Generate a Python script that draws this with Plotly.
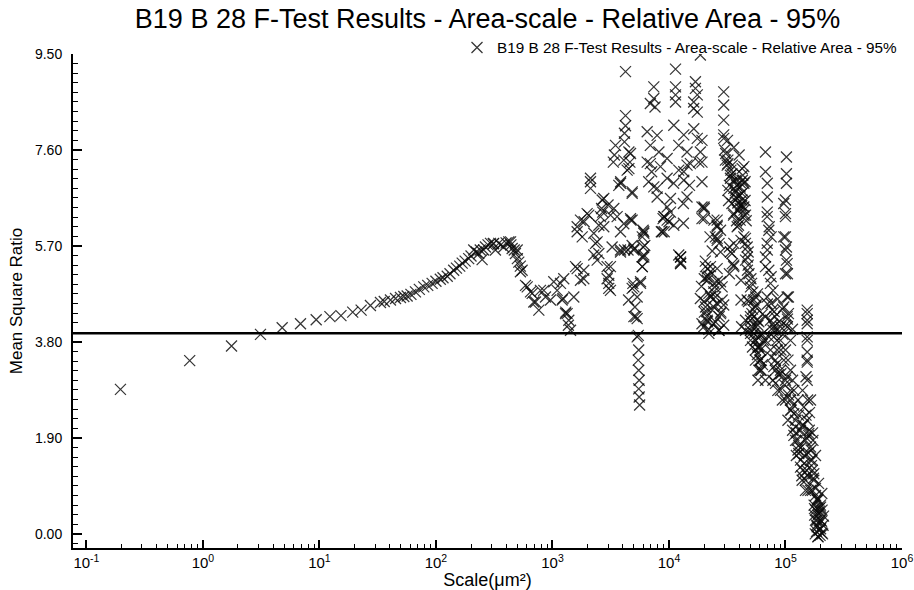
import plotly.graph_objects as go

TITLE = "B19 B 28 F-Test Results - Area-scale - Relative Area - 95%"
X_TITLE = "Scale(μm²)"
Y_TITLE = "Mean Square Ratio"
THRESHOLD = 3.97

y_tick_values = [0.0, 1.9, 3.8, 5.7, 7.6, 9.5]
x_tick_values = [0.1, 1, 10, 100, 1000, 10000, 100000, 1000000]
x_tick_labels = ["10<sup>-1</sup>", "10<sup>0</sup>", "10<sup>1</sup>", "10<sup>2</sup>",
                 "10<sup>3</sup>", "10<sup>4</sup>", "10<sup>5</sup>", "10<sup>6</sup>"]

# smooth part of the curve (small scales)
curve_scale = [0.196, 0.77, 1.76, 3.12, 4.79, 6.88, 9.38, 12.3, 15.3, 19.3,
               22.8, 27.4, 33.4, 36, 40.7, 45, 49.6, 53, 56.6, 61,
               66.7, 72, 78.6, 85, 92.7, 100, 109, 115, 125, 132,
               142, 150, 160, 168, 178, 191, 200, 211, 222, 233,
               240, 249, 266, 280, 294, 310, 324, 346, 360, 382,
               400, 422, 440, 451, 470, 481, 500, 514, 530, 549,
               587, 648, 715, 764, 843, 962, 1026, 1097, 1211, 1337]
curve_ratio = [2.86, 3.43, 3.72, 3.95, 4.08, 4.16, 4.24, 4.30, 4.32, 4.39,
               4.43, 4.52, 4.58, 4.60, 4.63, 4.66, 4.68, 4.70, 4.71, 4.74,
               4.79, 4.84, 4.89, 4.92, 4.96, 5.00, 5.04, 5.07, 5.10, 5.15,
               5.22, 5.26, 5.30, 5.36, 5.40, 5.45, 5.50, 5.62, 5.58, 5.55,
               5.62, 5.43, 5.68, 5.72, 5.75, 5.74, 5.62, 5.75, 5.72, 5.68,
               5.76, 5.78, 5.72, 5.65, 5.62, 5.55, 5.45, 5.38, 5.30, 5.22,
               4.92, 4.79, 4.59, 4.43, 4.82, 4.63, 4.99, 4.82, 4.63, 4.36]

mid_scale = [257, 313, 437, 498, 531, 607, 670, 692, 789, 871,
             1172, 1294, 1381, 1429, 1525, 1629, 1740, 1858, 1629, 1740,
             1985, 2120, 2264, 2340, 2418, 2500, 2582, 2668, 2756, 2945,
             3042, 3145, 3145, 3250, 3362, 3590, 3837, 3837, 4093, 4093,
             4375, 4677, 4831, 4831, 4990, 5333, 5500, 5450, 5500, 5550,
             5500, 5550, 5600, 5200, 5100, 5333, 5000, 5700, 5900, 5900,
             6000, 5900, 6000, 4236, 4236, 4236, 4150, 4150, 3475, 3400,
             3330, 4530, 4620, 4530, 2120, 2120, 3710, 3850, 4831, 2756,
             2640, 2050, 1870, 1629, 1800, 2418, 2264, 2500, 2700, 3000,
             3150, 3837, 3837, 4677, 4831, 5030, 6080, 6200, 6080, 1578,
             1858, 2945, 3042, 3042, 1250, 1230, 1300, 1370, 4831, 5333,
             5450, 5700, 6080, 6080, 5900, 4900, 4500, 5000, 4700, 4450,
             4150]
mid_ratio = [5.62, 5.75, 5.78, 5.62, 5.19, 4.89, 4.76, 4.59, 4.82, 4.69,
             4.96, 4.36, 4.23, 4.03, 4.69, 5.25, 5.02, 5.22, 6.08, 6.21,
             6.34, 6.97, 5.95, 5.75, 5.42, 5.55, 6.28, 6.61, 6.08, 5.05,
             4.96, 4.82, 5.29, 5.68, 6.44, 6.28, 5.62, 6.94, 6.14, 7.40,
             7.20, 7.53, 6.21, 6.74, 5.62, 3.90, 3.64, 3.44, 3.24, 3.04,
             2.87, 2.71, 2.55, 4.30, 4.49, 4.69, 4.89, 4.96, 5.29, 5.48,
             5.68, 5.88, 6.01, 9.15, 8.28, 8.08, 7.93, 7.76, 7.69, 7.50,
             7.36, 7.56, 7.36, 7.23, 7.04, 6.84, 6.90, 6.97, 6.77, 6.64,
             6.44, 6.31, 6.18, 5.98, 5.88, 5.78, 5.52, 6.11, 6.37, 6.51,
             6.31, 5.98, 5.58, 6.24, 5.71, 5.65, 5.98, 5.71, 5.52, 5.29,
             5.05, 5.29, 5.12, 4.86, 5.05, 4.66, 4.39, 4.13, 4.86, 4.26,
             3.93, 4.99, 5.95, 5.48, 5.29, 4.96, 4.63, 4.30, 6.21, 5.62,
             5.62]

upper_scale = [7410, 7410, 6920, 7590, 11380, 11380, 11380, 11380, 18600, 16870,
               16870, 17500, 16300, 16300, 17500, 6500, 7910, 6920, 8200, 6500,
               7100, 6700, 7910, 6920, 8450, 7410, 7910, 8730, 9020, 9640,
               9640, 9640, 9640, 10300, 10300, 8900, 8600, 10000, 11000, 11000,
               10960, 12560, 12560, 12130, 12560, 12130, 12130, 13400, 13400, 13400,
               14290, 14290, 14290, 15000, 15280, 16330, 17500, 18600, 18000, 19200,
               19200, 19200, 19200, 19200, 20100, 20100, 9100, 9100, 12600, 12600]
upper_ratio = [8.85, 8.62, 8.52, 8.45, 9.20, 8.85, 8.69, 8.55, 9.48, 8.95,
               8.82, 8.69, 8.55, 8.42, 8.35, 7.96, 7.89, 7.69, 7.56, 7.36,
               7.17, 6.97, 6.84, 7.33, 7.27, 6.87, 6.67, 5.98, 6.28, 6.21,
               6.47, 7.43, 7.04, 6.64, 6.37, 6.24, 5.98, 6.18, 6.11, 8.09,
               6.94, 5.48, 5.35, 5.52, 5.38, 7.20, 7.69, 7.90, 7.17, 7.00,
               7.56, 7.30, 6.67, 6.90, 7.33, 8.02, 7.83, 7.56, 7.36, 6.97,
               7.79, 7.36, 6.47, 6.24, 6.44, 6.24, 6.28, 5.98, 5.48, 5.35]

low_scale = [18600, 20100, 21400, 20100, 21400, 24200, 19000, 20000, 21000, 22000,
             23000, 24000, 25000, 26000, 20500, 22000, 27000, 23500, 22700, 21100,
             24600, 22700, 25900, 21100, 19200, 27900, 26900, 27700, 29500, 29500,
             25900, 25900, 27700, 25900, 25000, 26900, 20000, 22500, 25900]
low_ratio = [4.66, 5.05, 5.25, 4.39, 4.20, 4.79, 4.90, 4.60, 4.40, 5.10,
             4.70, 4.50, 4.20, 5.00, 5.40, 4.05, 4.30, 5.60, 5.29, 5.09,
             4.89, 4.69, 4.56, 4.30, 4.16, 4.39, 4.03, 4.99, 4.53, 4.13,
             6.11, 5.85, 5.58, 6.08, 5.88, 5.75, 6.47, 5.88, 6.21]

high_scale = [29500, 29500, 29500, 29500, 29500, 30700, 32000, 34700, 37600, 40800,
              37600, 42300, 44000, 40800, 43900, 43900, 42300, 43900, 32000, 34700,
              36000, 31600, 33700, 36000, 38400, 40900, 42500, 45000, 43500, 30000,
              32000, 34000, 36000, 38000, 40000, 42000, 44000, 35000, 37000, 39000,
              41000, 43000, 45000, 33000, 46000, 38000, 40000, 36000, 33700, 36000,
              34700, 36000, 35900, 38500, 38500, 41500, 41500, 41500, 42000, 45300,
              45300, 47800, 47800, 47100, 47100, 50500, 51200, 52500, 55500, 55500,
              56000, 53500, 59000, 55500, 62000, 57200, 59000, 61200, 59000, 67300,
              67300, 69800, 69800, 69800, 72500, 75300, 69800, 67300, 75300, 78200,
              75300, 81200, 78200, 84700, 91300, 84700, 91300, 101900, 101900, 101900,
              99900, 99900, 99900, 101900, 101900, 103900, 106000, 106000, 103900, 153600,
              153600, 153600, 153600, 153600, 153600, 153600, 153600, 153600, 150000, 153600]
high_ratio = [8.75, 8.49, 8.19, 7.90, 7.83, 7.53, 7.33, 7.13, 7.00, 6.87,
              6.67, 6.61, 6.41, 6.21, 7.27, 6.94, 6.74, 6.47, 6.80, 6.54,
              6.34, 7.30, 7.04, 6.84, 6.64, 6.44, 7.23, 6.97, 6.77, 7.60,
              7.40, 7.20, 7.00, 6.90, 6.70, 6.50, 6.30, 7.30, 6.75, 6.55,
              6.95, 7.10, 6.60, 6.90, 6.20, 6.20, 7.50, 7.65, 5.58, 5.32,
              5.55, 5.75, 5.29, 6.41, 6.08, 5.81, 5.02, 4.63, 4.10, 5.85,
              5.75, 5.58, 5.32, 5.48, 5.22, 5.05, 4.96, 4.79, 4.69, 4.49,
              4.53, 4.30, 4.20, 4.10, 3.93, 3.90, 3.70, 3.44, 3.24, 7.56,
              7.17, 6.94, 6.67, 6.37, 6.08, 5.88, 5.62, 5.29, 5.09, 4.82,
              4.56, 4.30, 4.03, 3.83, 3.64, 3.37, 3.17, 7.46, 7.13, 6.94,
              6.61, 6.28, 5.88, 5.68, 5.42, 5.15, 4.69, 4.36, 4.10, 4.43,
              4.36, 4.23, 4.16, 3.90, 3.83, 3.60, 3.44, 3.40, 3.11, 3.04]

band_scale = [53500, 58000, 60000, 62000, 51500, 64500, 50000, 79400, 84700, 79400,
              82000, 90600, 96800, 103300, 110400, 117800, 121800, 126000, 130000, 134500,
              139000, 148500, 143600, 153400, 158500, 164000, 164000, 169400, 175000, 187000,
              193000, 187000, 190000, 200000, 181000, 45400, 50100, 55200, 61000, 50100,
              55200, 61000, 55200, 61000, 67300, 58000, 67300, 50100, 45400, 58000,
              63000, 74300, 82000, 90600, 100000, 74300, 82000, 90600, 100000, 110400,
              82000, 78000, 86000, 94000, 105000, 110400, 115000, 95000, 100000, 80000,
              88000, 100000, 110400, 121900, 134600, 148600, 115000, 121900, 128000, 134600,
              141000, 148600, 156000, 164000, 170000, 175000, 164000, 105000, 112000, 118000,
              124000, 130000, 140000, 150000, 160000, 166000, 145000, 138000, 152000, 158000,
              172000, 128000, 118000, 140000, 155000, 170000, 181000, 190000, 199700, 206000,
              181000, 190000, 199700, 185000, 195000, 205000, 180000, 190000, 210000, 200000,
              176000, 186000, 195000, 205000, 178000, 212000, 198000]
band_ratio = [3.97, 3.70, 3.44, 3.24, 4.10, 3.83, 4.30, 3.90, 3.64, 3.31,
              2.98, 2.84, 3.44, 3.11, 2.65, 2.38, 2.12, 1.85, 1.59, 1.32,
              1.06, 0.86, 2.51, 2.25, 1.99, 1.72, 2.65, 1.46, 1.19, 0.67,
              0.40, 0.14, -0.06, 0.53, 0.27, 4.23, 4.03, 3.83, 3.64, 3.83,
              3.64, 3.44, 3.44, 3.24, 3.04, 3.04, 3.83, 4.23, 4.03, 4.13,
              3.95, 4.23, 4.03, 3.83, 3.64, 3.64, 3.44, 3.24, 3.04, 2.84,
              3.24, 3.04, 2.84, 2.65, 3.44, 3.24, 3.04, 3.95, 4.13, 4.40,
              4.20, 2.65, 2.45, 2.25, 2.05, 1.85, 2.05, 1.85, 1.66, 1.46,
              1.26, 1.06, 0.86, 1.46, 1.26, 1.06, 0.86, 2.25, 2.45, 1.95,
              1.55, 1.75, 2.15, 2.35, 2.05, 1.66, 1.55, 1.15, 1.26, 1.95,
              1.85, 2.65, 2.84, 2.84, 2.65, 0.86, 0.76, 0.67, 0.57, 0.47,
              0.47, 0.37, 0.27, 0.17, 0.07, 0.02, 0.00, -0.05, 0.17, 0.10,
              0.57, 0.27, 0.50, 0.80, 0.37, 0.35, -0.03]

extra_scale = [48100, 52100, 57500, 63500, 70000, 77400, 85400, 94200, 104000, 114800,
               52100, 57500, 63500, 75900, 87100, 98000, 106200, 117200, 129400, 142800,
               151400, 157500, 167100, 173800, 181000, 188400, 196000, 203900, 184600, 208000,
               177400, 192100, 160700, 145600, 134600, 124200, 170600, 181000, 154500,
               30500, 33700, 37200, 41100, 39500, 35800, 32500, 42700, 45400, 31800]
extra_ratio = [4.60, 4.45, 4.75, 4.35, 4.55, 4.15, 4.65, 4.45, 4.25, 4.05,
               3.70, 3.55, 3.35, 3.50, 3.15, 2.95, 2.75, 2.55, 2.35, 2.15,
               1.90, 1.60, 1.35, 1.10, 0.90, 0.70, 0.45, 0.25, 0.05, 0.00,
               0.50, 1.00, 2.40, 1.40, 1.70, 2.00, 2.00, 1.55, 1.15,
               7.40, 7.10, 6.80, 6.51, 6.11, 6.31, 6.60, 7.00, 6.31, 7.79]

dense_scale = [13300, 13300,
               20600, 22700, 25900, 21300, 24300, 28600, 22000, 25100, 28600, 20600,
               23500, 27700, 21300, 24300, 19900, 26800, 22000,
               24300, 27700, 25900, 33000, 35000, 33000,
               43900, 46900, 45400, 48600, 50100, 46900, 53500, 51500, 57200, 50100, 55200, 61000,
               69600, 71900, 69600, 67300, 71900, 74300, 69600, 76900, 67300, 79400, 71900,
               96600, 100000, 96600, 100000, 103300, 100000, 103300, 96600, 103300, 90600, 110400]
dense_ratio = [6.54, 6.15,
               5.29, 5.19, 5.25, 5.02, 4.96, 4.89, 4.76, 4.69, 4.63, 4.49,
               4.43, 4.36, 4.23, 4.16, 4.10, 4.03, 3.97,
               6.21, 6.01, 5.81, 5.68, 5.35, 5.15,
               5.88, 5.68, 5.42, 5.15, 4.89, 4.63, 4.63, 4.36, 4.23, 3.97, 3.83, 3.70,
               6.28, 6.01, 5.75, 5.48, 5.22, 4.96, 4.69, 4.43, 4.30, 4.10, 3.90,
               6.54, 6.34, 5.88, 5.62, 5.35, 5.15, 4.69, 4.49, 4.30, 4.10, 3.83]

groups = [(curve_scale, curve_ratio), (mid_scale, mid_ratio), (upper_scale, upper_ratio),
          (low_scale, low_ratio), (high_scale, high_ratio), (band_scale, band_ratio),
          (extra_scale, extra_ratio), (dense_scale, dense_ratio)]
scale_all, ratio_all = [], []
for xs, ys in groups:
    assert len(xs) == len(ys), (len(xs), len(ys))
    scale_all += xs
    ratio_all += ys

FONT = "Arial, Liberation Sans, sans-serif"
MARK = "rgba(10,10,10,0.82)"

fig = go.Figure()
fig.add_trace(go.Scatter(
    x=scale_all, y=ratio_all, mode="markers", name=TITLE,
    marker=dict(symbol="x-thin", size=11, color=MARK, line=dict(width=1.25, color=MARK)),
))

fig.add_shape(type="line", xref="paper", x0=0, x1=1, yref="y", y0=THRESHOLD, y1=THRESHOLD,
              line=dict(color="black", width=2.5))

minor_x = [k * 10 ** e for e in range(-1, 6) for k in range(2, 10)]

fig.update_layout(
    width=914, height=590,
    margin=dict(l=73, r=12, t=54, b=42),
    paper_bgcolor="white", plot_bgcolor="white",
    font=dict(family=FONT, color="black"),
    title=dict(text=TITLE, x=0.5, xref="paper", xanchor="center", y=0.968, yanchor="middle",
               font=dict(size=27, family=FONT, color="black")),
    showlegend=True,
    legend=dict(x=1.0, xanchor="right", y=1.013, yanchor="middle", bgcolor="rgba(0,0,0,0)",
                font=dict(size=15.3, family=FONT, color="black"), itemwidth=30),
    xaxis=dict(
        type="log", range=[-1.115, 6.0], automargin=False,
        showline=True, linecolor="black", linewidth=2, mirror=False,
        showgrid=False, zeroline=False,
        tickmode="array", tickvals=x_tick_values, ticktext=x_tick_labels,
        ticks="inside", ticklen=8, tickwidth=1.5, tickcolor="black",
        tickfont=dict(size=15, family=FONT, color="black"),
        minor=dict(tickmode="array", tickvals=minor_x, ticks="inside", ticklen=4,
                   tickwidth=1.2, tickcolor="black", showgrid=False),
        title=dict(text=X_TITLE, font=dict(size=18, family=FONT, color="black"), standoff=4),
    ),
    yaxis=dict(
        range=[-0.28, 9.5], automargin=False,
        showline=True, linecolor="black", linewidth=2, mirror=False,
        showgrid=False, zeroline=False,
        tickmode="array", tickvals=y_tick_values, tickformat=".2f",
        ticks="inside", ticklen=9, tickwidth=1.5, tickcolor="black",
        tickfont=dict(size=14, family=FONT, color="black"), ticklabelstandoff=6,
        minor=dict(tick0=0, dtick=0.19, ticks="inside", ticklen=5, tickwidth=1.2,
                   tickcolor="black", showgrid=False),
        title=dict(text=Y_TITLE, font=dict(size=17, family=FONT, color="black"), standoff=8),
    ),
)

fig.write_html("out.html")
